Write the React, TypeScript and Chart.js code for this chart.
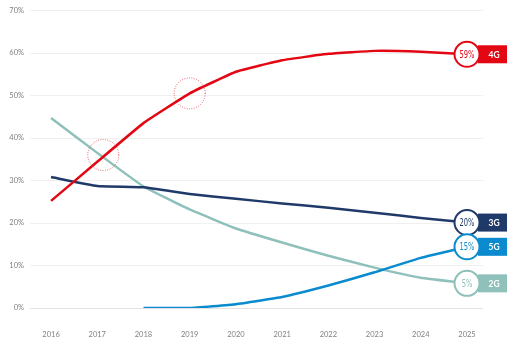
import React, { useEffect, useRef } from "react";
import { Chart, registerables } from "chart.js";

Chart.register(...registerables);

const years = [2016, 2017, 2018, 2019, 2020, 2021, 2022, 2023, 2024, 2025];
const yTicks = [0, 10, 20, 30, 40, 50, 60, 70];
const g4 = [25.2, 34.4, 43.5, 50.5, 55.6, 58.3, 59.8, 60.5, 60.3, 59.7];
const g3 = [30.8, 28.7, 28.4, 26.8, 25.7, 24.6, 23.6, 22.4, 21.2, 20.1];
const g5 = [null, null, 0, 0, 0.9, 2.6, 5.3, 8.4, 11.8, 14.4];
const g2 = [44.7, 36.5, 28.6, 23.2, 18.7, 15.4, 12.3, 9.5, 7.1, 5.8];
const seriesNames = ["4G", "3G", "5G", "2G"];
const endLabels = ["59%", "20%", "15%", "5%"];
const colors = ["#e30613", "#1f3a68", "#0a8bcf", "#8fc0ba"];
const highlightX = [2017.13, 2019];
const highlightY = [36, 50.5];

const toPoints = (arr: (number | null)[]) =>
  years.map((y, i) => ({ x: y, y: arr[i] }));

const endLabelPlugin = {
  id: "endLabels",
  afterDatasetsDraw(chart: any) {
    const ctx = chart.ctx;
    const xs = chart.scales.x;
    const ys = chart.scales.y;
    ctx.save();
    highlightX.forEach((hx, i) => {
      const px = xs.getPixelForValue(hx);
      const py = ys.getPixelForValue(highlightY[i]);
      ctx.beginPath();
      ctx.setLineDash([0.8, 1.6]);
      ctx.lineWidth = 0.9;
      ctx.strokeStyle = "#d9303a";
      ctx.arc(px, py, 15.5, 0, Math.PI * 2);
      ctx.stroke();
    });
    ctx.restore();
    const order = [3, 0, 1, 2];
    order.forEach((di) => {
      const meta = chart.getDatasetMeta(di);
      const pt = meta.data[meta.data.length - 1];
      const x = pt.x;
      const y = pt.y;
      const c = colors[di];
      ctx.save();
      ctx.fillStyle = c;
      ctx.fillRect(x + 11, y - 9, 29, 18);
      ctx.fillStyle = "#ffffff";
      ctx.font = "bold 8.5px Lato, 'Open Sans', sans-serif";
      ctx.textAlign = "center";
      ctx.textBaseline = "middle";
      ctx.fillText(seriesNames[di], x + 27, y + 0.5);
      ctx.beginPath();
      ctx.arc(x, y, 12.5, 0, Math.PI * 2);
      ctx.fillStyle = "#ffffff";
      ctx.fill();
      ctx.lineWidth = 2;
      ctx.strokeStyle = c;
      ctx.stroke();
      ctx.fillStyle = c;
      ctx.font = "11px 'DejaVu Sans Condensed', 'Liberation Sans Narrow', sans-serif";
      ctx.translate(x, y + 0.5);
      ctx.scale(0.68, 1);
      ctx.fillText(endLabels[di], 0, 0);
      ctx.restore();
    });
  },
};

export default function App() {
  const ref = useRef<HTMLCanvasElement | null>(null);
  useEffect(() => {
    if (!ref.current) return;
    const datasets = [g4, g3, g5, g2].map((d, i) => ({
      label: seriesNames[i],
      data: toPoints(d),
      borderColor: colors[i],
      backgroundColor: colors[i],
      borderWidth: 2.5,
      pointRadius: 0,
      tension: 0.1,
      fill: false,
      spanGaps: false,
    }));
    const chart = new Chart(ref.current, {
      type: "line",
      data: { datasets },
      plugins: [endLabelPlugin],
      options: {
        animation: false,
        responsive: false,
        maintainAspectRatio: false,
        layout: { padding: { top: 7, right: 37, left: 0, bottom: 0 } },
        plugins: { legend: { display: false }, tooltip: { enabled: false } },
        scales: {
          x: {
            type: "linear",
            min: 2015.545,
            max: 2025.346,
            grid: { display: false, drawTicks: false },
            border: { display: false },
            afterBuildTicks: (s: any) => {
              s.ticks = years.map((v) => ({ value: v }));
            },
            afterFit: (s: any) => {
              s.height = 39;
            },
            ticks: {
              padding: 22,
              color: "#808080",
              font: { family: "Lato, 'Open Sans', sans-serif", size: 7.5 },
              callback: (v: any) => String(v),
              maxRotation: 0,
              autoSkip: false,
            },
          },
          y: {
            min: 0,
            max: 70,
            afterBuildTicks: (s: any) => {
              s.ticks = yTicks.map((v) => ({ value: v }));
            },
            afterFit: (s: any) => {
              s.width = 30;
            },
            grid: {
              drawTicks: false,
              color: (c: any) => (c.tick && c.tick.value === 0 ? "#e2e2e2" : "#f0f0f0"),
              lineWidth: 1,
            },
            border: { display: false },
            ticks: {
              padding: 6,
              color: "#808080",
              font: { family: "Lato, 'Open Sans', sans-serif", size: 7.5 },
              callback: (v: any) => v + "%",
            },
          },
        },
      },
    });
    return () => chart.destroy();
  }, []);
  return (
    <div style={{ position: "fixed", left: 0, top: 0, width: 520, height: 347, background: "#fff" }}>
      <canvas ref={ref} width={520} height={347} style={{ width: 520, height: 347 }} />
    </div>
  );
}
